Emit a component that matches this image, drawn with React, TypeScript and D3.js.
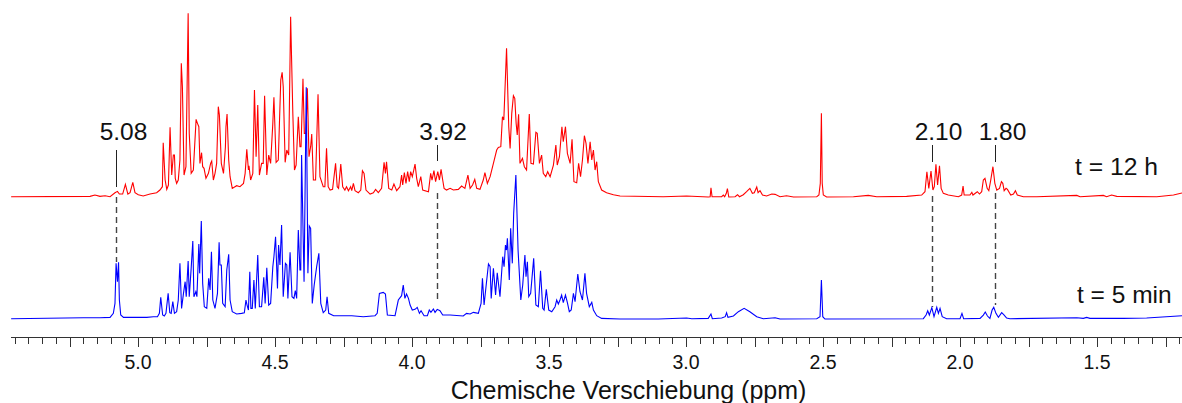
import React from "react";
import * as d3 from "d3";

type Point = [number, number];

// [ppm, intensity], intensity in arbitrary units above baseline
const spectrum12h: Point[] = [
  [5.463,0],[5.175,1],[5.157,5],[5.139,1],[5.120,3],[5.102,0],[5.084,12],[5.075,16],[5.068,8],[5.056,8],[5.046,37],[5.037,8],[5.029,12],[5.019,43],[5.011,12],[4.999,6],[4.981,2],[4.956,8],[4.932,12],[4.920,20],
  [4.911,30],[4.908,162],[4.901,50],[4.895,22],[4.889,35],[4.883,208],[4.877,65],[4.871,125],[4.867,125],[4.864,55],[4.859,40],[4.853,50],[4.847,110],[4.842,400],[4.838,330],[4.832,65],[4.825,90],[4.817,550],[4.813,190],[4.806,70],
  [4.798,80],[4.788,232],[4.783,220],[4.778,210],[4.774,100],[4.768,132],[4.764,90],[4.759,85],[4.752,55],[4.743,70],[4.735,100],[4.731,107],[4.725,50],[4.719,70],[4.713,100],[4.707,270],[4.703,245],[4.696,100],[4.688,70],[4.681,150],
  [4.679,210],[4.675,248],[4.669,110],[4.664,60],[4.656,25],[4.640,33],[4.628,30],[4.615,40],[4.609,70],[4.603,142],[4.597,80],[4.595,93],[4.589,50],[4.581,70],[4.575,320],[4.569,120],[4.563,275],[4.557,65],[4.549,100],[4.543,100],
  [4.538,303],[4.530,65],[4.523,125],[4.516,100],[4.508,220],[4.504,298],[4.496,103],[4.488,110],[4.479,350],[4.474,373],[4.470,330],[4.463,103],[4.457,140],[4.450,125],[4.443,540],[4.435,250],[4.429,80],[4.423,95],[4.415,240],
  [4.409,150],[4.405,150],[4.398,354],[4.393,190],[4.387,190],[4.382,325],[4.376,120],[4.370,150],[4.366,188],[4.360,50],[4.352,50],[4.343,307],[4.336,60],[4.324,30],[4.318,30],[4.312,145],[4.306,30],[4.299,20],[4.290,22],[4.279,100],
  [4.273,30],[4.268,25],[4.260,98],[4.253,30],[4.245,20],[4.239,30],[4.232,18],[4.224,30],[4.220,18],[4.214,40],[4.208,18],[4.196,12],[4.187,20],[4.181,78],[4.175,70],[4.168,20],[4.153,8],[4.141,12],[4.133,22],[4.123,12],
  [4.111,25],[4.102,103],[4.097,70],[4.093,105],[4.085,25],[4.074,20],[4.066,38],[4.056,18],[4.044,30],[4.038,65],[4.034,35],[4.028,72],[4.022,40],[4.016,75],[4.010,45],[4.005,75],[3.999,60],[3.994,78],[3.989,98],[3.983,55],
  [3.977,30],[3.968,60],[3.961,20],[3.940,15],[3.932,70],[3.927,50],[3.920,78],[3.914,45],[3.906,75],[3.900,50],[3.894,82],[3.888,50],[3.883,25],[3.874,20],[3.861,25],[3.849,20],[3.831,22],[3.819,32],[3.807,25],[3.796,65],
  [3.788,25],[3.779,35],[3.771,52],[3.764,25],[3.752,22],[3.740,50],[3.734,72],[3.725,40],[3.715,60],[3.703,100],[3.691,140],[3.685,148],[3.676,150],[3.670,240],[3.665,230],[3.655,445],[3.647,210],[3.642,145],[3.636,250],[3.630,303],
  [3.625,295],[3.620,220],[3.616,185],[3.611,247],[3.606,100],[3.597,115],[3.590,90],[3.582,80],[3.572,248],[3.566,100],[3.557,98],[3.548,193],[3.543,190],[3.535,100],[3.527,125],[3.521,70],[3.512,60],[3.505,75],[3.496,60],[3.484,95],
  [3.475,155],[3.470,95],[3.462,120],[3.453,210],[3.448,165],[3.440,210],[3.433,130],[3.423,100],[3.416,172],[3.409,45],[3.399,42],[3.392,100],[3.385,60],[3.378,110],[3.371,183],[3.365,160],[3.358,100],[3.350,165],[3.344,110],[3.338,140],
  [3.332,80],[3.326,105],[3.320,45],[3.308,20],[3.290,12],[3.265,6],[3.241,2],
  [3.083,0],[2.998,2],[2.919,-1],[2.912,0],[2.909,27],[2.905,0],[2.870,0],[2.864,5],[2.859,0],[2.853,10],[2.849,24],[2.844,-1],[2.821,0],[2.812,6],[2.805,0],[2.791,6],[2.779,15],[2.767,25],[2.758,10],[2.751,12],
  [2.742,29],[2.737,12],[2.730,18],[2.721,5],[2.706,2],[2.687,8],[2.675,7],[2.657,0],[2.633,3],[2.608,-1],[2.523,0],[2.515,5],[2.510,40],[2.506,250],[2.503,40],[2.499,5],[2.487,-1],[2.389,0],[2.335,4],[2.304,0],
  [2.195,1],[2.140,5],[2.128,15],[2.121,75],[2.114,25],[2.106,77],[2.099,20],[2.094,30],[2.088,97],[2.082,35],[2.075,93],[2.069,25],[2.061,10],[2.043,5],[2.006,0],[1.994,5],[1.989,32],[1.985,5],[1.964,5],[1.957,13],
  [1.953,5],[1.937,15],[1.929,8],[1.921,15],[1.915,50],[1.909,55],[1.901,25],[1.895,18],[1.888,50],[1.880,90],[1.873,40],[1.866,20],[1.856,25],[1.849,45],[1.844,40],[1.839,18],[1.832,25],[1.827,22],[1.815,5],[1.805,8],
  [1.798,18],[1.791,5],[1.769,0],[1.720,0],[1.574,4],[1.562,0],[1.477,4],[1.465,0],[1.447,5],[1.428,1],[1.282,0],[1.221,5],[1.190,11],
];

const spectrum5min: Point[] = [
  [5.463,0],[5.199,3],[5.139,3],[5.102,4],[5.090,16],[5.084,46],[5.080,166],[5.075,111],[5.071,169],[5.068,56],[5.063,11],[5.053,4],[5.017,4],[4.968,4],[4.944,6],[4.929,6],[4.922,16],[4.917,64],[4.910,11],[4.904,8],
  [4.898,16],[4.890,76],[4.884,18],[4.879,16],[4.873,51],[4.867,16],[4.859,21],[4.853,56],[4.847,166],[4.841,31],[4.834,76],[4.828,111],[4.824,66],[4.817,173],[4.813,66],[4.806,151],[4.800,233],[4.796,66],[4.789,81],[4.785,66],
  [4.778,224],[4.775,136],[4.769,293],[4.764,106],[4.758,36],[4.749,31],[4.742,121],[4.737,86],[4.732,201],[4.727,56],[4.719,31],[4.710,76],[4.704,229],[4.701,161],[4.696,161],[4.691,46],[4.682,36],[4.676,146],[4.669,193],[4.664,56],
  [4.656,21],[4.640,14],[4.622,16],[4.612,18],[4.606,56],[4.602,41],[4.597,26],[4.592,141],[4.588,31],[4.583,31],[4.577,116],[4.572,31],[4.563,191],[4.557,36],[4.549,36],[4.541,124],[4.536,46],[4.530,153],[4.523,41],[4.516,46],
  [4.508,156],[4.504,186],[4.498,246],[4.491,91],[4.487,221],[4.482,161],[4.476,281],[4.470,66],[4.462,166],[4.457,161],[4.453,61],[4.445,199],[4.438,66],[4.431,61],[4.426,84],[4.421,61],[4.415,266],[4.409,146],
  [4.406,146],[4.403,491],[4.394,111],[4.386,694],[4.380,136],[4.375,278],[4.370,271],[4.364,46],[4.357,101],[4.348,156],[4.340,196],[4.333,46],[4.324,18],[4.315,26],[4.310,66],[4.304,16],[4.286,9],[4.269,9],[4.220,9],[4.178,6],
  [4.135,9],[4.127,16],[4.119,76],[4.105,79],[4.097,74],[4.090,11],[4.062,9],[4.050,56],[4.038,69],[4.032,101],[4.026,61],[4.020,74],[4.013,61],[4.007,41],[3.999,26],[3.989,28],[3.981,34],[3.973,16],[3.967,24],[3.956,9],
  [3.944,9],[3.937,26],[3.931,19],[3.922,29],[3.916,19],[3.908,28],[3.898,24],[3.888,11],[3.861,11],[3.813,8],[3.801,16],[3.788,14],[3.776,19],[3.758,16],[3.748,46],[3.743,121],[3.737,41],[3.730,96],[3.721,164],[3.715,156],
  [3.711,61],[3.703,151],[3.695,71],[3.689,138],[3.679,66],[3.669,186],[3.664,156],[3.659,221],[3.655,206],[3.652,241],[3.645,116],[3.640,271],[3.634,166],[3.629,316],[3.621,431],[3.613,206],[3.603,56],[3.596,101],[3.588,191],[3.584,126],
  [3.579,171],[3.574,66],[3.567,76],[3.556,181],[3.548,41],[3.539,36],[3.531,144],[3.523,31],[3.518,26],[3.510,88],[3.501,26],[3.490,21],[3.478,36],[3.472,56],[3.466,44],[3.460,56],[3.454,71],[3.448,48],[3.440,71],[3.433,48],
  [3.426,21],[3.419,26],[3.411,76],[3.405,51],[3.395,134],[3.387,81],[3.378,56],[3.369,136],[3.363,76],[3.353,36],[3.344,49],[3.338,26],[3.326,9],[3.308,1],[3.241,-1],
  [3.101,-1],[2.998,2],[2.979,0],[2.919,1],[2.909,14],[2.904,0],[2.870,2],[2.857,6],[2.852,18],[2.847,4],[2.827,8],[2.809,21],[2.788,31],[2.767,21],[2.742,6],[2.718,0],[2.675,3],[2.657,-1],[2.523,0],[2.511,6],
  [2.506,116],[2.501,6],[2.493,-1],[2.134,0],[2.124,11],[2.118,24],[2.112,11],[2.103,33],[2.095,6],[2.085,34],[2.079,16],[2.073,31],[2.065,6],[2.049,0],[2.000,0],[1.993,16],[1.987,0],[1.927,1],[1.915,11],[1.908,20],
  [1.900,8],[1.891,1],[1.883,26],[1.877,34],[1.869,16],[1.860,4],[1.848,18],[1.839,11],[1.830,2],[1.818,0],[1.574,3],[1.550,1],[1.538,4],[1.526,1],[1.404,1],[1.319,2],[1.190,9],
];

const axisTicks = d3.range(0, 86).map(i => +(5.45 - i * 0.05).toFixed(2));
const axisLabels = [5.0, 4.5, 4.0, 3.5, 3.0, 2.5, 2.0, 1.5];

// the labels are the assigned shifts, the lines sit where they were drawn in the figure
const markerLabels = ["5.08", "3.92", "2.10", "1.80"];
const markerPpm = [5.08, 3.91, 2.104, 1.874];
const markerLabelShift = [7, 5.5, 6, 7];
const markerSolidEnd = [187, 161, 162, 162];
const markerDashStart = [197, 193, 196, 193];
const markerDashEnd = [262, 302, 307, 305];

export default function App() {
  const width = 1182;
  const height = 403;
  const font = "'Liberation Sans', Arial, sans-serif";

  const x = d3.scaleLinear().domain([5.4635, 1.19]).range([11, 1182]);
  // 3 intensity units per pixel, both traces on the same scale
  const yRed = d3.scaleLinear().domain([0, 590]).range([196.7, 0]);
  const yBlue = d3.scaleLinear().domain([0, 590]).range([318.7, 122]);

  const lineRed = d3.line<Point>().x(d => x(d[0])).y(d => yRed(d[1]));
  const lineBlue = d3.line<Point>().x(d => x(d[0])).y(d => yBlue(d[1]));

  const axisY = 337;

  return (
    <svg
      width={width}
      height={height}
      style={{ position: "absolute", left: 0, top: 0, background: "#fff" }}
      fontFamily={font}
    >
      {/* Marker lines */}
      {markerPpm.map((p, i) => {
        const mx = Math.round(x(p)) + 0.5;
        return (
          <g key={i}>
            <line x1={mx} x2={mx} y1={i === 0 ? 150 : 145} y2={markerSolidEnd[i]} stroke="#222" strokeWidth={1} />
            <line x1={mx} x2={mx} y1={markerDashStart[i]} y2={markerDashEnd[i]} stroke="#444" strokeWidth={1.4} strokeDasharray="6 4" />
            <text x={mx + markerLabelShift[i]} y={140} textAnchor="middle" fontSize={24.5} fill="#111">
              {markerLabels[i]}
            </text>
          </g>
        );
      })}

      {/* Spectra */}
      <path d={lineRed(spectrum12h) ?? ""} fill="none" stroke="#ff0000" strokeWidth={1.1} />
      <path d={lineBlue(spectrum5min) ?? ""} fill="none" stroke="#0000ff" strokeWidth={1.1} />

      <text x={1075} y={175} fontSize={24.7} fill="#111">t = 12 h</text>
      <text x={1077} y={303} fontSize={24.5} fill="#111">t = 5 min</text>

      {/* Axis */}
      <line x1={11} x2={1182} y1={axisY + 0.5} y2={axisY + 0.5} stroke="#333" strokeWidth={1} />
      {axisTicks.map(t => {
        const major = Math.round(t * 100) % 25 === 0;
        const tx = Math.round(x(t)) + 0.5;
        return <line key={t} x1={tx} x2={tx} y1={axisY} y2={axisY + (major ? 10 : 7)} stroke="#333" strokeWidth={1} />;
      })}
      {axisLabels.map(t => (
        <text key={t} x={x(t)} y={369} textAnchor="middle" fontSize={19.5} fill="#111">
          {t.toFixed(1)}
        </text>
      ))}
      <text x={628.5} y={399} textAnchor="middle" fontSize={25} fill="#111">
        Chemische Verschiebung (ppm)
      </text>
    </svg>
  );
}
